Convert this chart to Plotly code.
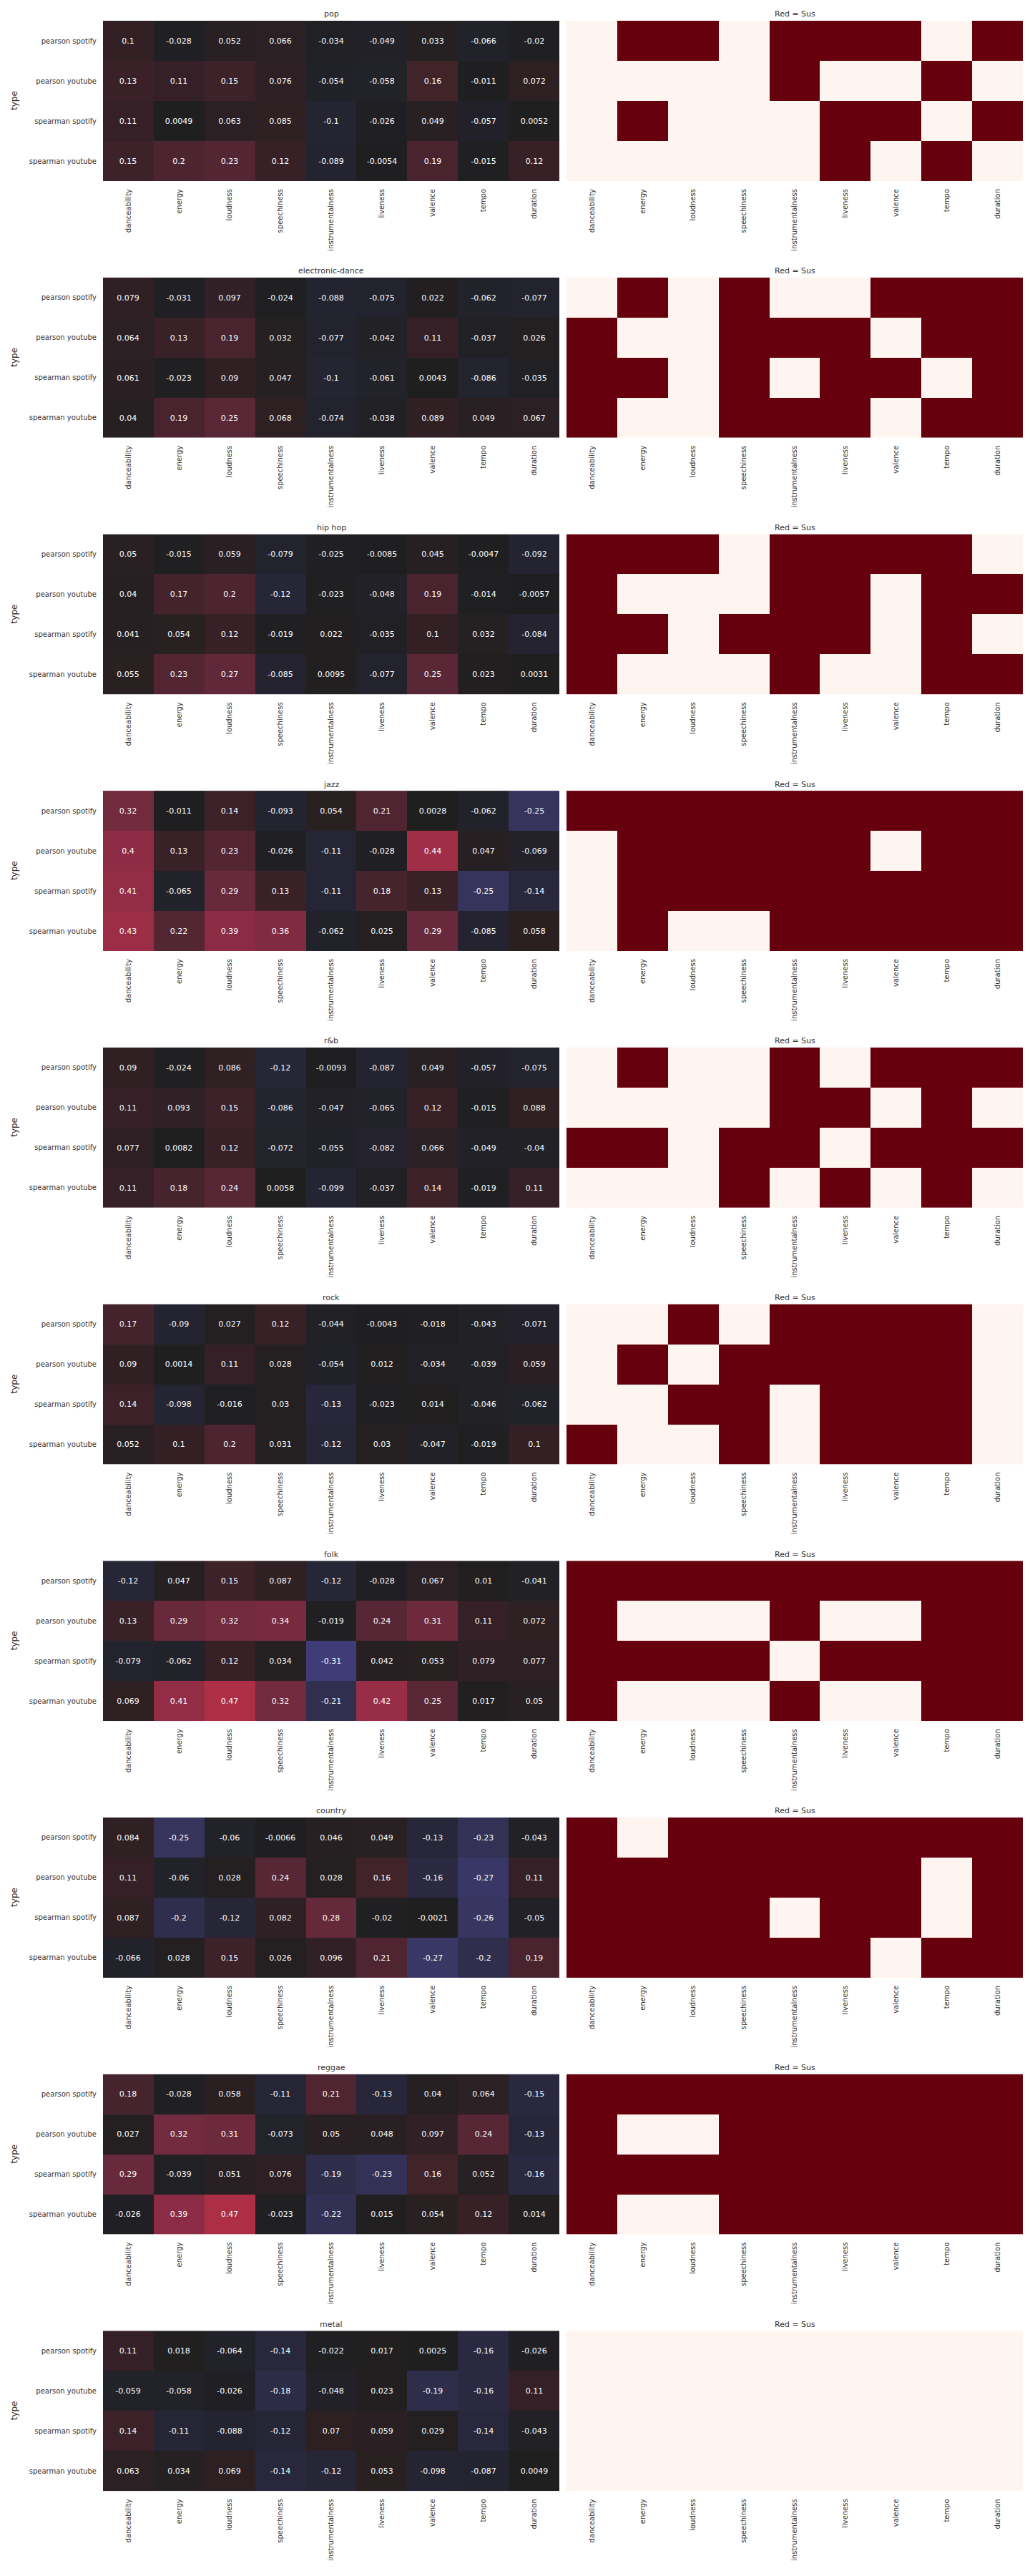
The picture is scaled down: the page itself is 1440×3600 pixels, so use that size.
import plotly.graph_objects as go

features = ["danceability", "energy", "loudness", "speechiness", "instrumentalness",
            "liveness", "valence", "tempo", "duration"]
types = ["pearson spotify", "pearson youtube", "spearman spotify", "spearman youtube"]
genres = ["pop", "electronic-dance", "hip hop", "jazz", "r&b", "rock", "folk",
          "country", "reggae", "metal"]

pop_corr = [[0.1, -0.028, 0.052, 0.066, -0.034, -0.049, 0.033, -0.066, -0.02],
            [0.13, 0.11, 0.15, 0.076, -0.054, -0.058, 0.16, -0.011, 0.072],
            [0.11, 0.0049, 0.063, 0.085, -0.1, -0.026, 0.049, -0.057, 0.0052],
            [0.15, 0.2, 0.23, 0.12, -0.089, -0.0054, 0.19, -0.015, 0.12]]
edm_corr = [[0.079, -0.031, 0.097, -0.024, -0.088, -0.075, 0.022, -0.062, -0.077],
            [0.064, 0.13, 0.19, 0.032, -0.077, -0.042, 0.11, -0.037, 0.026],
            [0.061, -0.023, 0.09, 0.047, -0.1, -0.061, 0.0043, -0.086, -0.035],
            [0.04, 0.19, 0.25, 0.068, -0.074, -0.038, 0.089, 0.049, 0.067]]
hiphop_corr = [[0.05, -0.015, 0.059, -0.079, -0.025, -0.0085, 0.045, -0.0047, -0.092],
               [0.04, 0.17, 0.2, -0.12, -0.023, -0.048, 0.19, -0.014, -0.0057],
               [0.041, 0.054, 0.12, -0.019, 0.022, -0.035, 0.1, 0.032, -0.084],
               [0.055, 0.23, 0.27, -0.085, 0.0095, -0.077, 0.25, 0.023, 0.0031]]
jazz_corr = [[0.32, -0.011, 0.14, -0.093, 0.054, 0.21, 0.0028, -0.062, -0.25],
             [0.4, 0.13, 0.23, -0.026, -0.11, -0.028, 0.44, 0.047, -0.069],
             [0.41, -0.065, 0.29, 0.13, -0.11, 0.18, 0.13, -0.25, -0.14],
             [0.43, 0.22, 0.39, 0.36, -0.062, 0.025, 0.29, -0.085, 0.058]]
rnb_corr = [[0.09, -0.024, 0.086, -0.12, -0.0093, -0.087, 0.049, -0.057, -0.075],
            [0.11, 0.093, 0.15, -0.086, -0.047, -0.065, 0.12, -0.015, 0.088],
            [0.077, 0.0082, 0.12, -0.072, -0.055, -0.082, 0.066, -0.049, -0.04],
            [0.11, 0.18, 0.24, 0.0058, -0.099, -0.037, 0.14, -0.019, 0.11]]
rock_corr = [[0.17, -0.09, 0.027, 0.12, -0.044, -0.0043, -0.018, -0.043, -0.071],
             [0.09, 0.0014, 0.11, 0.028, -0.054, 0.012, -0.034, -0.039, 0.059],
             [0.14, -0.098, -0.016, 0.03, -0.13, -0.023, 0.014, -0.046, -0.062],
             [0.052, 0.1, 0.2, 0.031, -0.12, 0.03, -0.047, -0.019, 0.1]]
folk_corr = [[-0.12, 0.047, 0.15, 0.087, -0.12, -0.028, 0.067, 0.01, -0.041],
             [0.13, 0.29, 0.32, 0.34, -0.019, 0.24, 0.31, 0.11, 0.072],
             [-0.079, -0.062, 0.12, 0.034, -0.31, 0.042, 0.053, 0.079, 0.077],
             [0.069, 0.41, 0.47, 0.32, -0.21, 0.42, 0.25, 0.017, 0.05]]
country_corr = [[0.084, -0.25, -0.06, -0.0066, 0.046, 0.049, -0.13, -0.23, -0.043],
                [0.11, -0.06, 0.028, 0.24, 0.028, 0.16, -0.16, -0.27, 0.11],
                [0.087, -0.2, -0.12, 0.082, 0.28, -0.02, -0.0021, -0.26, -0.05],
                [-0.066, 0.028, 0.15, 0.026, 0.096, 0.21, -0.27, -0.2, 0.19]]
reggae_corr = [[0.18, -0.028, 0.058, -0.11, 0.21, -0.13, 0.04, 0.064, -0.15],
               [0.027, 0.32, 0.31, -0.073, 0.05, 0.048, 0.097, 0.24, -0.13],
               [0.29, -0.039, 0.051, 0.076, -0.19, -0.23, 0.16, 0.052, -0.16],
               [-0.026, 0.39, 0.47, -0.023, -0.22, 0.015, 0.054, 0.12, 0.014]]
metal_corr = [[0.11, 0.018, -0.064, -0.14, -0.022, 0.017, 0.0025, -0.16, -0.026],
              [-0.059, -0.058, -0.026, -0.18, -0.048, 0.023, -0.19, -0.16, 0.11],
              [0.14, -0.11, -0.088, -0.12, 0.07, 0.059, 0.029, -0.14, -0.043],
              [0.063, 0.034, 0.069, -0.14, -0.12, 0.053, -0.098, -0.087, 0.0049]]

pop_sus = [[0, 1, 1, 0, 1, 1, 1, 0, 1],
           [0, 0, 0, 0, 1, 0, 0, 1, 0],
           [0, 1, 0, 0, 0, 1, 1, 0, 1],
           [0, 0, 0, 0, 0, 1, 0, 1, 0]]
edm_sus = [[0, 1, 0, 1, 0, 0, 1, 1, 1],
           [1, 0, 0, 1, 1, 1, 0, 1, 1],
           [1, 1, 0, 1, 0, 1, 1, 0, 1],
           [1, 0, 0, 1, 1, 1, 0, 1, 1]]
hiphop_sus = [[1, 1, 1, 0, 1, 1, 1, 1, 0],
              [1, 0, 0, 0, 1, 1, 0, 1, 1],
              [1, 1, 0, 1, 1, 1, 0, 1, 0],
              [1, 0, 0, 0, 1, 0, 0, 1, 1]]
jazz_sus = [[1, 1, 1, 1, 1, 1, 1, 1, 1],
            [0, 1, 1, 1, 1, 1, 0, 1, 1],
            [0, 1, 1, 1, 1, 1, 1, 1, 1],
            [0, 1, 0, 0, 1, 1, 1, 1, 1]]
rnb_sus = [[0, 1, 0, 0, 1, 0, 1, 1, 1],
           [0, 0, 0, 0, 1, 1, 0, 1, 0],
           [1, 1, 0, 1, 1, 0, 1, 1, 1],
           [0, 0, 0, 1, 0, 1, 0, 1, 0]]
rock_sus = [[0, 0, 1, 0, 1, 1, 1, 1, 0],
            [0, 1, 0, 1, 1, 1, 1, 1, 0],
            [0, 0, 1, 1, 0, 1, 1, 1, 0],
            [1, 0, 0, 1, 0, 1, 1, 1, 0]]
folk_sus = [[1, 1, 1, 1, 1, 1, 1, 1, 1],
            [1, 0, 0, 0, 1, 0, 0, 1, 1],
            [1, 1, 1, 1, 0, 1, 1, 1, 1],
            [1, 0, 0, 0, 1, 0, 0, 1, 1]]
country_sus = [[1, 0, 1, 1, 1, 1, 1, 1, 1],
               [1, 1, 1, 1, 1, 1, 1, 0, 1],
               [1, 1, 1, 1, 0, 1, 1, 0, 1],
               [1, 1, 1, 1, 1, 1, 0, 1, 1]]
reggae_sus = [[1, 1, 1, 1, 1, 1, 1, 1, 1],
              [1, 0, 0, 1, 1, 1, 1, 1, 1],
              [1, 1, 1, 1, 1, 1, 1, 1, 1],
              [1, 0, 0, 1, 1, 1, 1, 1, 1]]
metal_sus = [[0, 0, 0, 0, 0, 0, 0, 0, 0],
             [0, 0, 0, 0, 0, 0, 0, 0, 0],
             [0, 0, 0, 0, 0, 0, 0, 0, 0],
             [0, 0, 0, 0, 0, 0, 0, 0, 0]]

corr_by_genre = [pop_corr, edm_corr, hiphop_corr, jazz_corr, rnb_corr, rock_corr,
                 folk_corr, country_corr, reggae_corr, metal_corr]
sus_by_genre = [pop_sus, edm_sus, hiphop_sus, jazz_sus, rnb_sus, rock_sus,
                folk_sus, country_sus, reggae_sus, metal_sus]

# diverging "icefire"-like colour scale on [-1, 1]
icefire = [
    [0.0, "#c0e6dc"], [0.125, "#5fb0d6"], [0.25, "#3d6ac0"], [0.325, "#45418a"],
    [0.375, "#36345c"], [0.425, "#29283e"], [0.475, "#212127"], [0.5, "#1f1f20"],
    [0.525, "#282022"], [0.55, "#322025"], [0.575, "#3e2229"], [0.6, "#4c2530"],
    [0.625, "#5a2736"], [0.65, "#6a2a3c"], [0.675, "#7c2b41"], [0.7, "#8f2c45"],
    [0.725, "#a42e47"], [0.75, "#b83043"], [0.875, "#ef6a3a"], [1.0, "#fdecbf"],
]
reds = [[0.0, "#fff5f0"], [1.0, "#67000d"]]

W, H = 1440, 3600
LX0, LX1 = 144, 782
RX0, RX1 = 792, 1430
TOP0, PERIOD, HH = 29, 358.7, 224
FONT = "DejaVu Sans"
TXT = "#333333"

fig = go.Figure()
layout = dict(width=W, height=H, margin=dict(l=0, r=0, t=0, b=0),
              paper_bgcolor="white", plot_bgcolor="white", showlegend=False,
              font=dict(family=FONT, color=TXT))
annotations = []


def axname(n, kind):
    return kind if n == 1 else f"{kind}{n}"


for i, g in enumerate(genres):
    top = TOP0 + PERIOD * i
    y0 = 1 - (top + HH) / H
    y1 = 1 - top / H
    corr = corr_by_genre[i]
    sus = sus_by_genre[i]
    texts = [[format(v, ".2g") for v in row] for row in corr]

    for j, (x0, x1) in enumerate([(LX0, LX1), (RX0, RX1)]):
        n = 2 * i + j + 1
        xa, ya = axname(n, "x"), axname(n, "y")
        if j == 0:
            fig.add_trace(go.Heatmap(
                z=corr, x=features, y=types, text=texts, texttemplate="%{text}",
                textfont=dict(color="white", size=11, family=FONT),
                colorscale=icefire, zmin=-1, zmax=1, showscale=False,
                xaxis=xa, yaxis=ya, hoverinfo="skip"))
        else:
            fig.add_trace(go.Heatmap(
                z=sus, x=features, y=types, colorscale=reds, zmin=0, zmax=1,
                showscale=False, xaxis=xa, yaxis=ya, hoverinfo="skip"))
        layout[axname(n, "xaxis")] = dict(
            domain=[x0 / W, x1 / W], anchor=ya, showgrid=False, zeroline=False,
            showline=False, ticks="", tickangle=-90, ticklabelstandoff=8,
            tickfont=dict(size=10, color=TXT, family=FONT))
        layout[axname(n, "yaxis")] = dict(
            domain=[y0, y1], anchor=xa, showgrid=False, zeroline=False,
            showline=False, ticks="", autorange="reversed",
            showticklabels=(j == 0), ticklabelstandoff=8,
            tickfont=dict(size=10, color=TXT, family=FONT))
        annotations.append(dict(
            text=g if j == 0 else "Red = Sus", x=(x0 + x1) / 2 / W,
            y=1 - (top - 9) / H, xref="paper", yref="paper", showarrow=False,
            xanchor="center", yanchor="middle",
            font=dict(size=11, color=TXT, family=FONT)))
    annotations.append(dict(
        text="type", x=20 / W, y=1 - (top + HH / 2) / H, xref="paper", yref="paper",
        showarrow=False, textangle=-90, xanchor="center", yanchor="middle",
        font=dict(size=12, color=TXT, family=FONT)))

layout["annotations"] = annotations
fig.update_layout(**layout)
fig.write_html("out.html")
